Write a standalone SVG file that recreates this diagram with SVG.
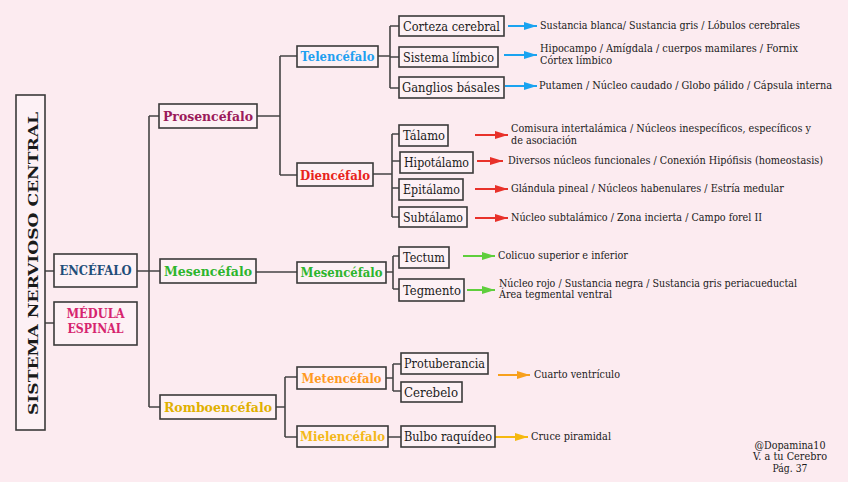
<svg xmlns="http://www.w3.org/2000/svg" width="848" height="482" viewBox="0 0 848 482">
<defs>
<style>
.bg{fill:#fcebf0}
.box{fill:#fdf1f5;stroke:#3a3a3a;stroke-width:1.6}
.c{fill:none;stroke:#444;stroke-width:1.6}
.t{font-family:"DejaVu Serif","Liberation Serif",serif;font-size:13px;fill:#1a1a1a}
.b{font-family:"DejaVu Serif","Liberation Serif",serif;font-size:13.5px;font-weight:bold}
.d{font-family:"DejaVu Serif","Liberation Serif",serif;font-size:10.5px;fill:#1a1a1a}
.m{text-anchor:middle}
.ab{stroke:#1aa3f0;stroke-width:2;fill:none}
.ar{stroke:#e8312a;stroke-width:2;fill:none}
.ag{stroke:#5fce3c;stroke-width:2;fill:none}
.ao{stroke:#f7a01c;stroke-width:2;fill:none}
.ay{stroke:#f5b80f;stroke-width:2;fill:none}
</style>
<marker id="hb" markerUnits="userSpaceOnUse" markerWidth="13" markerHeight="8" refX="13" refY="4" orient="auto"><path d="M0,0 L13,4 L0,8 z" fill="#1aa3f0"/></marker>
<marker id="hr" markerUnits="userSpaceOnUse" markerWidth="13" markerHeight="8" refX="13" refY="4" orient="auto"><path d="M0,0 L13,4 L0,8 z" fill="#e8312a"/></marker>
<marker id="hg" markerUnits="userSpaceOnUse" markerWidth="13" markerHeight="8" refX="13" refY="4" orient="auto"><path d="M0,0 L13,4 L0,8 z" fill="#5fce3c"/></marker>
<marker id="ho" markerUnits="userSpaceOnUse" markerWidth="13" markerHeight="8" refX="13" refY="4" orient="auto"><path d="M0,0 L13,4 L0,8 z" fill="#f7a01c"/></marker>
<marker id="hy" markerUnits="userSpaceOnUse" markerWidth="13" markerHeight="8" refX="13" refY="4" orient="auto"><path d="M0,0 L13,4 L0,8 z" fill="#f5b80f"/></marker>
</defs>
<rect class="bg" x="0" y="0" width="848" height="482"/>

<g id="connectors">
<path class="c" d="M45,271H54M45,323H54"/>
<path class="c" d="M137,271H149M149,116V407M149,116H159M149,271H160M149,407H160"/>
<path class="c" d="M257,116H280M280,56V175M280,56H297M280,175H297"/>
<path class="c" d="M378,56H390M390,26V88M390,26H399M390,57H399M390,88H399"/>
<path class="c" d="M373,174H392M392,134V217M392,134H399M392,161H400M392,188H399M392,217H399"/>
<path class="c" d="M256,272H297M386,272H393M393,256V289M393,256H399M393,289H399"/>
<path class="c" d="M276,407H285M285,377V437M285,377H297M285,437H297"/>
<path class="c" d="M386,378H393M393,364V391M393,364H401M393,391H401M388,437H401"/>
<path class="ab" d="M508,26H537" marker-end="url(#hb)"/>
<path class="ab" d="M504,55H537" marker-end="url(#hb)"/>
<path class="ab" d="M505,86H537" marker-end="url(#hb)"/>
<path class="ar" d="M475,135H508" marker-end="url(#hr)"/>
<path class="ar" d="M477,161H503" marker-end="url(#hr)"/>
<path class="ar" d="M475,189H508" marker-end="url(#hr)"/>
<path class="ar" d="M475,218H508" marker-end="url(#hr)"/>
<path class="ag" d="M463,256H495" marker-end="url(#hg)"/>
<path class="ag" d="M467,290H495" marker-end="url(#hg)"/>
<path class="ao" d="M498,375H530" marker-end="url(#ho)"/>
<path class="ay" d="M495,437H528" marker-end="url(#hy)"/>
</g>

<g id="snc"><rect class="box" x="16" y="95" width="29" height="335"/>
<text class="b m" transform="translate(37.5,263.5) rotate(-90)" font-size="19" fill="#1a1a1a" textLength="303" lengthAdjust="spacingAndGlyphs">SISTEMA NERVIOSO CENTRAL</text></g>

<g id="encefalo"><rect class="box" x="54" y="254" width="83" height="33"/>
<text class="b m" x="95.5" y="275" font-size="12.5" fill="#1f4e79" textLength="72" lengthAdjust="spacingAndGlyphs">ENCÉFALO</text></g>

<g id="medula"><rect class="box" x="54" y="302" width="83" height="43"/>
<text class="b m" x="95.5" y="318" font-size="11.5" fill="#d6246e" textLength="58" lengthAdjust="spacingAndGlyphs">MÉDULA</text>
<text class="b m" x="95.5" y="332.5" font-size="11.5" fill="#d6246e" textLength="56" lengthAdjust="spacingAndGlyphs">ESPINAL</text></g>

<g id="prosencefalo"><rect class="box" x="159" y="104" width="98" height="24"/>
<text class="b m" x="208" y="120.5" fill="#9b1b5b" textLength="90" lengthAdjust="spacingAndGlyphs">Prosencéfalo</text></g>

<g id="mesencefalo"><rect class="box" x="160" y="259" width="96" height="24"/>
<text class="b m" x="208" y="275.5" fill="#2db52d" textLength="88" lengthAdjust="spacingAndGlyphs">Mesencéfalo</text></g>

<g id="romboencefalo"><rect class="box" x="160" y="395" width="116" height="24"/>
<text class="b m" x="218" y="411.5" fill="#e0b000" textLength="108" lengthAdjust="spacingAndGlyphs">Romboencéfalo</text></g>

<g id="telencefalo"><rect class="box" x="297" y="46" width="81" height="21"/>
<text class="b m" x="337.5" y="61" fill="#1fa0f0" textLength="74" lengthAdjust="spacingAndGlyphs">Telencéfalo</text></g>

<g id="diencefalo"><rect class="box" x="297" y="163" width="76" height="23"/>
<text class="b m" x="335" y="179.5" fill="#e8231c" textLength="70" lengthAdjust="spacingAndGlyphs">Diencéfalo</text></g>

<g id="mesencefalo2"><rect class="box" x="297" y="262" width="89" height="21"/>
<text class="b m" x="341.5" y="277" fill="#2db52d" textLength="82" lengthAdjust="spacingAndGlyphs">Mesencéfalo</text></g>

<g id="metencefalo"><rect class="box" x="297" y="367" width="89" height="22"/>
<text class="b m" x="341.5" y="382.5" fill="#ff9a1f" textLength="80" lengthAdjust="spacingAndGlyphs">Metencéfalo</text></g>

<g id="mielencefalo"><rect class="box" x="297" y="426" width="91" height="21"/>
<text class="b m" x="342.5" y="441" fill="#f3b81a" textLength="85" lengthAdjust="spacingAndGlyphs">Mielencéfalo</text></g>

<g id="corteza"><rect class="box" x="399" y="16" width="105" height="20"/>
<text class="t" x="403" y="30.5" textLength="97" lengthAdjust="spacingAndGlyphs">Corteza cerebral</text></g>
<g id="limbico"><rect class="box" x="399" y="47" width="99" height="20"/>
<text class="t" x="403" y="61.5" textLength="91" lengthAdjust="spacingAndGlyphs">Sistema límbico</text></g>
<g id="ganglios"><rect class="box" x="399" y="77" width="105" height="21"/>
<text class="t" x="402" y="92" textLength="98" lengthAdjust="spacingAndGlyphs">Ganglios básales</text></g>

<g id="talamo"><rect class="box" x="399" y="125" width="49" height="21"/>
<text class="t" x="403" y="140" textLength="42" lengthAdjust="spacingAndGlyphs">Tálamo</text></g>
<g id="hipotalamo"><rect class="box" x="400" y="152" width="73" height="21"/>
<text class="t" x="404" y="167" textLength="65" lengthAdjust="spacingAndGlyphs">Hipotálamo</text></g>
<g id="epitalamo"><rect class="box" x="399" y="179" width="64" height="21"/>
<text class="t" x="403" y="194" textLength="57" lengthAdjust="spacingAndGlyphs">Epitálamo</text></g>
<g id="subtalamo"><rect class="box" x="399" y="207" width="68" height="20"/>
<text class="t" x="403" y="221.5" textLength="60" lengthAdjust="spacingAndGlyphs">Subtálamo</text></g>

<g id="tectum"><rect class="box" x="399" y="247" width="50" height="21"/>
<text class="t" x="403" y="262" textLength="42" lengthAdjust="spacingAndGlyphs">Tectum</text></g>
<g id="tegmento"><rect class="box" x="399" y="279" width="65" height="22"/>
<text class="t" x="403" y="294.5" textLength="58" lengthAdjust="spacingAndGlyphs">Tegmento</text></g>

<g id="protuberancia"><rect class="box" x="401" y="353" width="87" height="21"/>
<text class="t" x="404" y="368" textLength="81" lengthAdjust="spacingAndGlyphs">Protuberancia</text></g>
<g id="cerebelo"><rect class="box" x="401" y="382" width="61" height="20"/>
<text class="t" x="404" y="396.5" textLength="54" lengthAdjust="spacingAndGlyphs">Cerebelo</text></g>
<g id="bulbo"><rect class="box" x="401" y="426" width="94" height="21"/>
<text class="t" x="404" y="441" textLength="88" lengthAdjust="spacingAndGlyphs">Bulbo raquídeo</text></g>

<g id="descripciones">
<text class="d" x="540" y="29" textLength="260" lengthAdjust="spacingAndGlyphs">Sustancia blanca/ Sustancia gris / Lóbulos cerebrales</text>
<text class="d" x="540" y="52" textLength="258" lengthAdjust="spacingAndGlyphs">Hipocampo / Amígdala / cuerpos mamilares / Fornix</text>
<text class="d" x="540" y="64" textLength="72" lengthAdjust="spacingAndGlyphs">Córtex límbico</text>
<text class="d" x="539" y="89" font-size="9.3" textLength="293" lengthAdjust="spacingAndGlyphs">Putamen / Núcleo caudado / Globo pálido / Cápsula interna</text>
<text class="d" x="511" y="132" textLength="300" lengthAdjust="spacingAndGlyphs">Comisura intertalámica / Núcleos inespecíficos, específicos y</text>
<text class="d" x="511" y="144" textLength="66" lengthAdjust="spacingAndGlyphs">de asociación</text>
<text class="d" x="508" y="164" textLength="315" lengthAdjust="spacingAndGlyphs">Diversos núcleos funcionales / Conexión Hipófisis (homeostasis)</text>
<text class="d" x="511" y="192" textLength="273" lengthAdjust="spacingAndGlyphs">Glándula pineal / Núcleos habenulares / Estría medular</text>
<text class="d" x="511" y="221" textLength="251" lengthAdjust="spacingAndGlyphs">Núcleo subtalámico / Zona incierta / Campo forel II</text>
<text class="d" x="498" y="258.5" textLength="130" lengthAdjust="spacingAndGlyphs">Colicuo superior e inferior</text>
<text class="d" x="499" y="286.5" textLength="298" lengthAdjust="spacingAndGlyphs">Núcleo rojo / Sustancia negra / Sustancia gris periacueductal</text>
<text class="d" x="499" y="298" textLength="113" lengthAdjust="spacingAndGlyphs">Área tegmental ventral</text>
<text class="d" x="534" y="378" textLength="86" lengthAdjust="spacingAndGlyphs">Cuarto ventrículo</text>
<text class="d" x="531" y="439.5" textLength="80" lengthAdjust="spacingAndGlyphs">Cruce piramidal</text>
</g>

<g id="credito">
<text class="d m" x="790" y="449" textLength="71" lengthAdjust="spacingAndGlyphs">@Dopamina10</text>
<text class="d m" x="790" y="460" textLength="74" lengthAdjust="spacingAndGlyphs">V. a tu Cerebro</text>
<text class="d m" x="790" y="471.5" textLength="35" lengthAdjust="spacingAndGlyphs">Pág. 37</text>
</g>
</svg>
